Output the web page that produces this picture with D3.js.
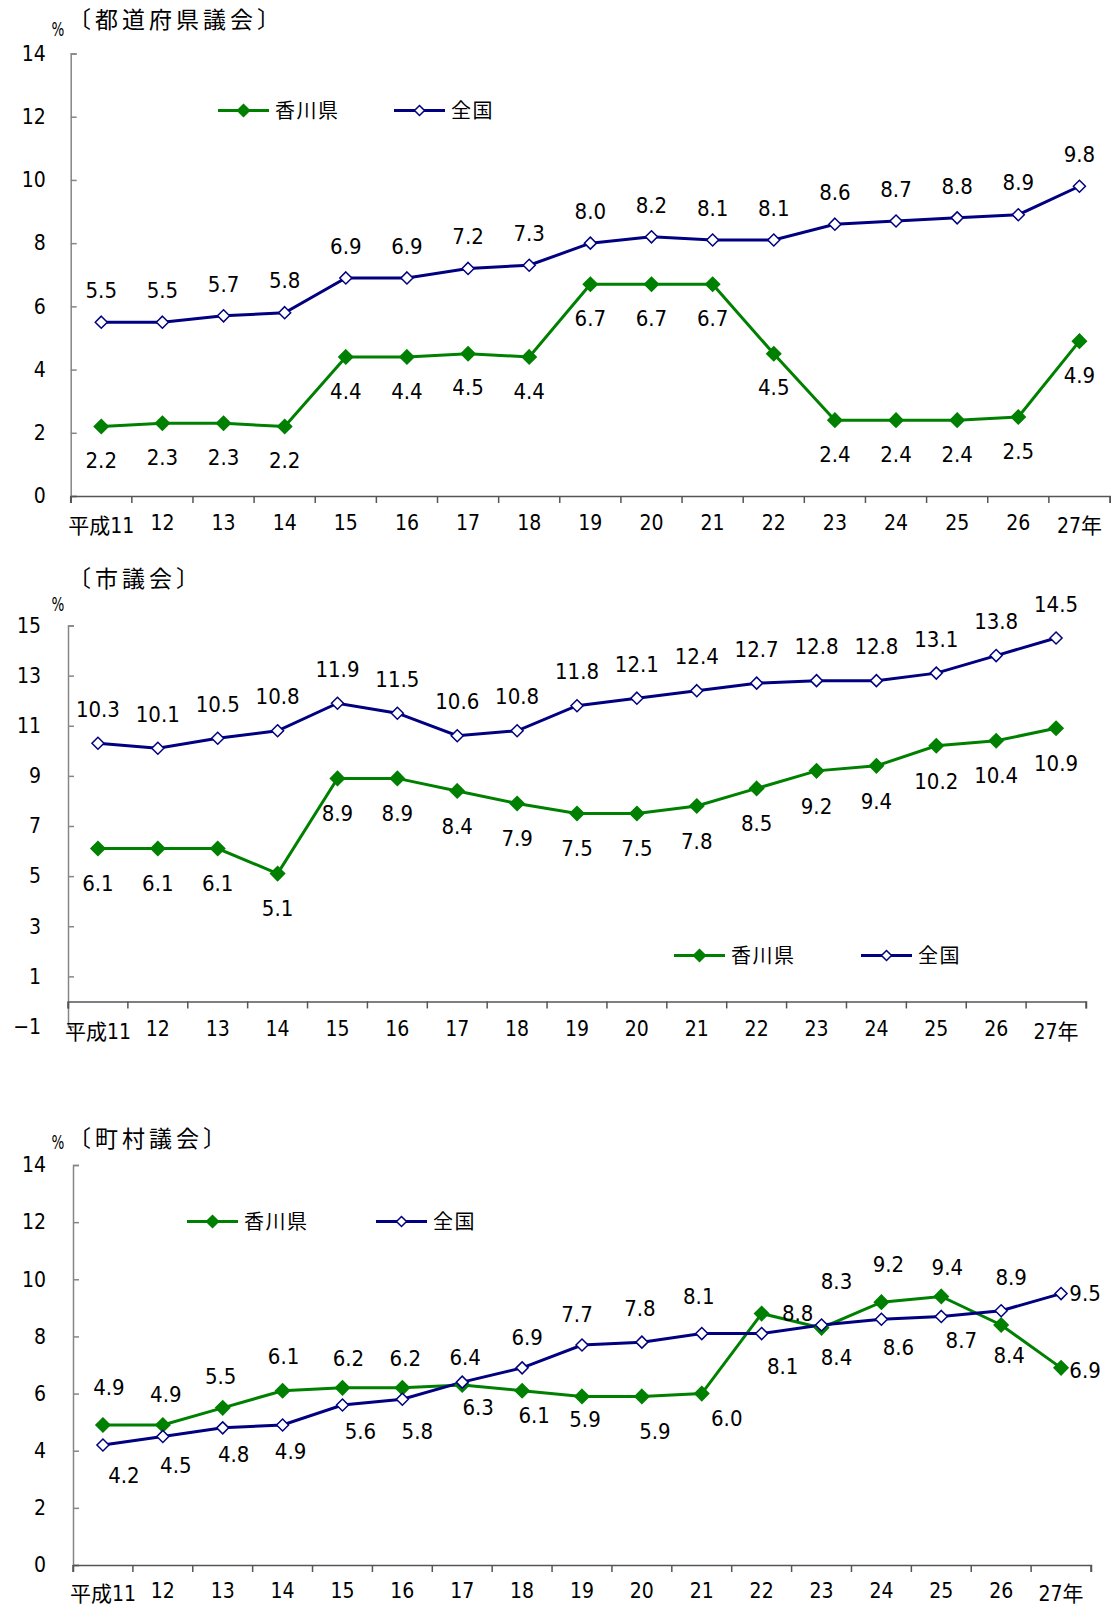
<!DOCTYPE html>
<html>
<head>
<meta charset="utf-8">
<script src="https://cdn.jsdelivr.net/npm/d3@7"></script>
<style>
  body { margin: 0; background: #fff; }
  svg text { font-family: "Liberation Sans Narrow", "DejaVu Sans Condensed", "Noto Sans CJK JP", sans-serif; fill: #000; }
  .jp { font-family: "Noto Sans CJK JP", sans-serif; }
</style>
</head>
<body>
<div id="chart"></div>
<script>
// years (平成)
var years = ["平成11", "12", "13", "14", "15", "16", "17", "18", "19", "20", "21", "22", "23", "24", "25", "26", "27年"];
var seriesNames = ["香川県", "全国"];

// 都道府県議会
var prefKagawa = [2.2, 2.3, 2.3, 2.2, 4.4, 4.4, 4.5, 4.4, 6.7, 6.7, 6.7, 4.5, 2.4, 2.4, 2.4, 2.5, 4.9];
var prefZenkoku = [5.5, 5.5, 5.7, 5.8, 6.9, 6.9, 7.2, 7.3, 8.0, 8.2, 8.1, 8.1, 8.6, 8.7, 8.8, 8.9, 9.8];

// 市議会
var cityKagawa = [6.1, 6.1, 6.1, 5.1, 8.9, 8.9, 8.4, 7.9, 7.5, 7.5, 7.8, 8.5, 9.2, 9.4, 10.2, 10.4, 10.9];
var cityZenkoku = [10.3, 10.1, 10.5, 10.8, 11.9, 11.5, 10.6, 10.8, 11.8, 12.1, 12.4, 12.7, 12.8, 12.8, 13.1, 13.8, 14.5];

// 町村議会
var townKagawa = [4.9, 4.9, 5.5, 6.1, 6.2, 6.2, 6.3, 6.1, 5.9, 5.9, 6.0, 8.8, 8.3, 9.2, 9.4, 8.4, 6.9];
var townZenkoku = [4.2, 4.5, 4.8, 4.9, 5.6, 5.8, 6.4, 6.9, 7.7, 7.8, 8.1, 8.1, 8.4, 8.6, 8.7, 8.9, 9.5];

// y tick values
var ticks14 = [0, 2, 4, 6, 8, 10, 12, 14];
var ticks15 = [-1, 1, 3, 5, 7, 9, 11, 13, 15];

// label offsets for the 町村 panel (crowded, placed by hand)
var townKagawaLabelOff = [[6,-38],[3,-31],[-2,-32],[1,-34],[6,-30],[3,-30],[16,22],[12,25],[3,23],[13,35],[25,25],[36,0],[15,-47],[7,-38],[6,-29],[8,30],[24,2]];
var townZenkokuLabelOff = [[21,30],[13,29],[11,26],[8,26],[18,26],[15,32],[3,-25],[5,-31],[-5,-31],[-2,-34],[-3,-37],[21,33],[15,32],[17,28],[20,24],[10,-33],[24,0]];

var GREEN = "#008000", NAVY = "#000080";

var W = 1111, H = 1605;
var svg = d3.select("#chart").append("svg")
    .attr("width", W)
    .attr("height", H);

var diamond = function (r) {
    return "M0," + (-r) + "L" + r + ",0L0," + r + "L" + (-r) + ",0Z";
};

function drawPanel(p) {
    var g = svg.append("g");

    var xScale = d3.scaleBand().domain(years).range([p.left, p.right]).padding(0);
    var yScale = d3.scaleLinear().domain(p.domain).range([p.bottom, p.top]);
    var cx = function (i) { return xScale(years[i]) + xScale.bandwidth() / 2; };

    // y axis (ticks drawn inward)
    var yAxis = d3.axisRight(yScale).tickValues(p.ticks).tickSize(6).tickFormat("");
    var ya = g.append("g")
        .attr("transform", "translate(" + p.left + ",0)")
        .call(yAxis);
    ya.select(".domain").attr("stroke", "#868686").attr("stroke-width", 1.5);
    ya.selectAll(".tick line").attr("stroke", "#868686").attr("stroke-width", 1.5);

    g.selectAll(".ylab")
        .data(p.ticks)
        .enter().append("text")
        .attr("x", p.left - p.ylabGap)
        .attr("y", function (d) { return yScale(d); })
        .attr("dy", "0.35em")
        .attr("text-anchor", "end")
        .style("font-size", "21px")
        .text(function (d) { return d < 0 ? "−" + Math.abs(d) : d; });

    // x axis at 0
    var xAxis = d3.axisBottom(xScale).tickSize(7).tickFormat("");
    var xa = g.append("g")
        .attr("transform", "translate(0," + yScale(0) + ")")
        .call(xAxis);
    xa.select(".domain").attr("stroke", "#555").attr("stroke-width", 1.5);
    // ticks on the band edges
    xa.selectAll(".tick").remove();
    g.selectAll(".xtick")
        .data(d3.range(years.length + 1))
        .enter().append("line")
        .attr("x1", function (i) { return p.left + i * xScale.bandwidth(); })
        .attr("x2", function (i) { return p.left + i * xScale.bandwidth(); })
        .attr("y1", yScale(0))
        .attr("y2", yScale(0) + 7)
        .attr("stroke", "#555")
        .attr("stroke-width", 1.5);

    g.selectAll(".xlab")
        .data(years)
        .enter().append("text")
        .attr("x", function (d, i) { return cx(i); })
        .attr("y", function (d, i) { return p.xlabY + (i === 0 || i === years.length - 1 ? 3 : 0); })
        .attr("dy", "0.35em")
        .attr("text-anchor", "middle")
        .style("font-size", "21px")
        .text(function (d) { return d; });

    // title + %
    g.append("text")
        .attr("class", "jp")
        .attr("x", p.titleX)
        .attr("y", p.titleY)
        .attr("dy", "0.35em")
        .style("font-size", "23px")
        .style("letter-spacing", "4px")
        .text(p.title);
    g.append("text")
        .attr("x", p.pctX)
        .attr("y", p.pctY)
        .attr("dy", "0.35em")
        .attr("text-anchor", "middle")
        .attr("transform", "translate(" + p.pctX + ",0) scale(0.75,1) translate(" + (-p.pctX) + ",0)")
        .style("font-size", "20px")
        .text("%");

    var line = d3.line()
        .x(function (d, i) { return cx(i); })
        .y(function (d) { return yScale(d); });

    var series = [
        { name: seriesNames[0], vals: p.kagawa, color: GREEN, fill: GREEN, r: 7, off: p.kagawaOff },
        { name: seriesNames[1], vals: p.zenkoku, color: NAVY, fill: "#fff", r: 6, off: p.zenkokuOff }
    ];

    series.forEach(function (s) {
        g.append("path")
            .datum(s.vals)
            .attr("d", line)
            .attr("fill", "none")
            .attr("stroke", s.color)
            .attr("stroke-width", 3);
    });
    series.forEach(function (s) {
        g.selectAll(null)
            .data(s.vals)
            .enter().append("path")
            .attr("d", diamond(s.r))
            .attr("transform", function (d, i) { return "translate(" + cx(i) + "," + yScale(d) + ")"; })
            .attr("fill", s.fill)
            .attr("stroke", s.color)
            .attr("stroke-width", 1.5);
    });
    series.forEach(function (s) {
        g.selectAll(null)
            .data(s.vals)
            .enter().append("text")
            .attr("x", function (d, i) { return cx(i) + s.off(i)[0]; })
            .attr("y", function (d, i) { return yScale(d) + s.off(i)[1]; })
            .attr("dy", "0.35em")
            .attr("text-anchor", "middle")
            .style("font-size", "22px")
            .text(function (d) { return d.toFixed(1); });
    });

    // legend
    series.forEach(function (s, k) {
        var lx = p.legendX[k];
        g.append("line")
            .attr("x1", lx).attr("x2", lx + 51)
            .attr("y1", p.legendY).attr("y2", p.legendY)
            .attr("stroke", s.color).attr("stroke-width", 3);
        g.append("path")
            .attr("d", diamond(s.r - 1))
            .attr("transform", "translate(" + (lx + 25.5) + "," + p.legendY + ")")
            .attr("fill", s.fill)
            .attr("stroke", s.color)
            .attr("stroke-width", 1.5);
        g.append("text")
            .attr("class", "jp")
            .attr("x", lx + 57)
            .attr("y", p.legendY)
            .attr("dy", "0.35em")
            .style("font-size", "20px")
            .style("letter-spacing", "1.5px")
            .text(s.name);
    });
}

drawPanel({
    title: "〔都道府県議会〕", titleX: 68, titleY: 20, pctX: 58, pctY: 29,
    left: 70.7, right: 1110, top: 53.5, bottom: 496, domain: [0, 14], ticks: ticks14,
    ylabGap: 25, xlabY: 523,
    kagawa: prefKagawa, zenkoku: prefZenkoku,
    kagawaOff: function () { return [0, 34]; },
    zenkokuOff: function () { return [0, -32]; },
    legendX: [218, 394], legendY: 110.5
});

drawPanel({
    title: "〔市議会〕", titleX: 68, titleY: 579, pctX: 58, pctY: 604,
    left: 68, right: 1086, top: 625.5, bottom: 1026.5, domain: [-1, 15], ticks: ticks15,
    ylabGap: 27, xlabY: 1029,
    kagawa: cityKagawa, zenkoku: cityZenkoku,
    kagawaOff: function () { return [0, 35]; },
    zenkokuOff: function () { return [0, -34]; },
    legendX: [674, 861], legendY: 955.5
});

drawPanel({
    title: "〔町村議会〕", titleX: 68, titleY: 1139, pctX: 58, pctY: 1142,
    left: 73, right: 1091, top: 1165, bottom: 1565, domain: [0, 14], ticks: ticks14,
    ylabGap: 27, xlabY: 1591,
    kagawa: townKagawa, zenkoku: townZenkoku,
    kagawaOff: function (i) { return townKagawaLabelOff[i]; },
    zenkokuOff: function (i) { return townZenkokuLabelOff[i]; },
    legendX: [187, 376], legendY: 1221.5
});
</script>
</body>
</html>
